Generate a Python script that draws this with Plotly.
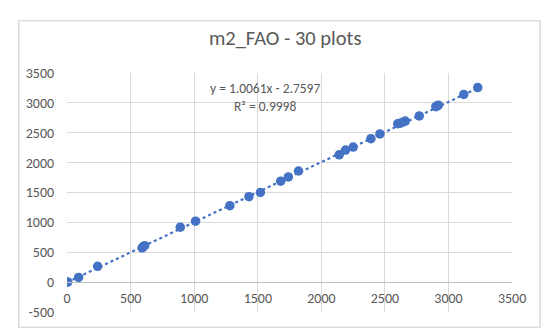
import numpy as np
import plotly.graph_objects as go

x_vals = [0, 5, 90, 240, 590, 600, 610, 890, 1010, 1280, 1430, 1520, 1680, 1740, 1820,
          2140, 2190, 2250, 2390, 2460, 2600, 2620, 2640, 2660, 2770, 2900, 2910, 2920, 3120, 3230]
y_vals = [0, 5, 80, 265, 575, 595, 610, 920, 1020, 1280, 1430, 1500, 1690, 1760, 1860,
          2130, 2210, 2260, 2400, 2480, 2650, 2660, 2675, 2695, 2780, 2935, 2950, 2960, 3140, 3255]

slope = 1.0061
intercept = -2.7597
r2 = 0.9998

ticks = [0, 500, 1000, 1500, 2000, 2500, 3000, 3500]
yticks = [-500, 0, 500, 1000, 1500, 2000, 2500, 3000, 3500]

font_family = "Carlito, Lato, 'Open Sans', sans-serif"
grey = "#595959"
blue = "#4472C4"

W, H = 550, 333
L, R, T, B = 57, 517, 60, 312   # plot area in pixels

tx = np.array([min(x_vals), max(x_vals)])
ty = slope * tx + intercept

fig = go.Figure()
fig.add_trace(go.Scatter(x=tx, y=ty, mode="lines",
                         line=dict(color=blue, width=2.2, dash="dot"),
                         hoverinfo="skip", showlegend=False))
fig.add_trace(go.Scatter(x=x_vals, y=y_vals, mode="markers",
                         marker=dict(color=blue, size=9.5, line=dict(width=0)),
                         showlegend=False))

fig.update_layout(
    width=W, height=H,
    margin=dict(l=0, r=0, t=0, b=0),
    paper_bgcolor="white", plot_bgcolor="white",
    font=dict(family=font_family, color=grey, size=14),
    title=dict(text="m2_FAO - 30 plots", x=0.504, xanchor="center", y=0.91, yanchor="middle",
               font=dict(size=20.5, color=grey, family=font_family)),
    xaxis=dict(domain=[L / W, R / W], range=[0, 3500], tickvals=ticks, ticktext=[str(t) for t in ticks],
               showgrid=True, gridcolor="#d9d9d9", gridwidth=1,
               zeroline=False, showline=True, linecolor="#bfbfbf", linewidth=1,
               anchor="free", position=(H - B) / H + 0.125 * (B - T) / H,
               ticks="", ticklabelstandoff=3,
               tickfont=dict(size=14, color=grey)),
    yaxis=dict(domain=[(H - B) / H, (H - T) / H], range=[-500, 3500],
               tickvals=yticks, ticktext=[str(t) for t in yticks],
               showgrid=True, gridcolor="#d9d9d9", gridwidth=1,
               zeroline=False, showline=False, ticks="", ticklabelstandoff=12,
               tickfont=dict(size=14, color=grey)),
    annotations=[dict(x=1557, y=3095, xref="x", yref="y",
                      text=f"y = {slope}x - {abs(intercept)}<br>R² = {r2}",
                      showarrow=False, align="center",
                      font=dict(size=13.5, color=grey, family=font_family))],
)

# chart-area frame
fig.add_shape(type="rect", xref="paper", yref="paper",
              x0=7 / W, x1=546 / W, y0=(H - 328) / H, y1=(H - 5) / H,
              line=dict(color="#d0d0d0", width=1.2), fillcolor="rgba(0,0,0,0)",
              layer="above")

fig.write_html("out.html")
